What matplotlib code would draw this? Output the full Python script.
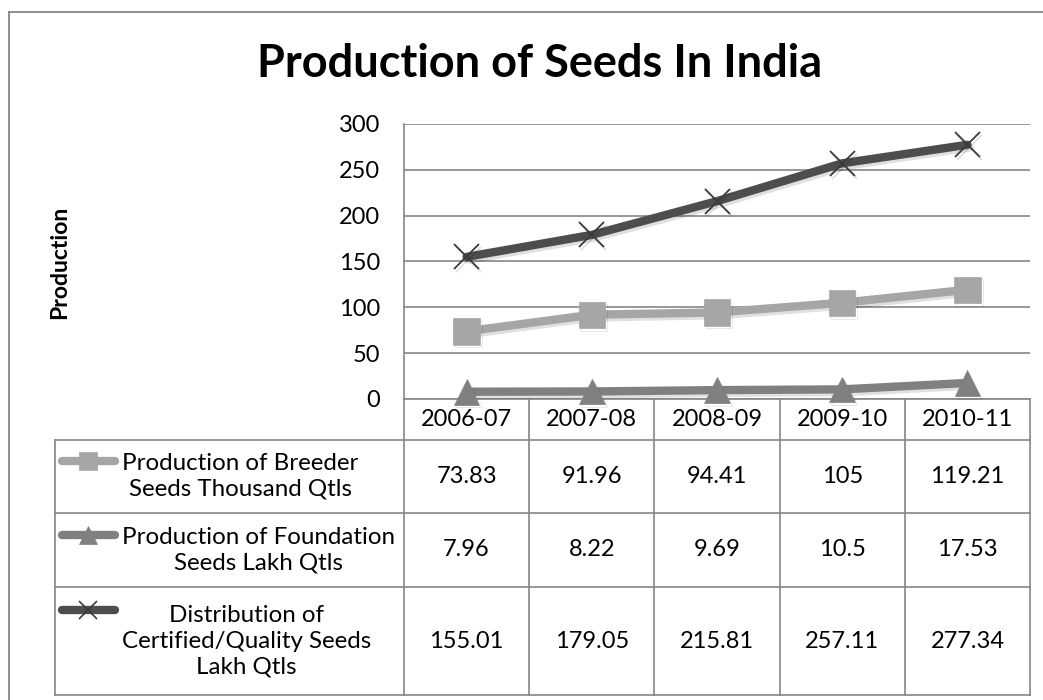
import matplotlib
matplotlib.use("Agg")
import matplotlib.pyplot as plt
import matplotlib.patheffects as pe
import numpy as np

plt.rcParams['font.family'] = ['Lato', 'DejaVu Sans']

# ---- data ----
years = ["2006-07", "2007-08", "2008-09", "2009-10", "2010-11"]
breeder = [73.83, 91.96, 94.41, 105, 119.21]
foundation = [7.96, 8.22, 9.69, 10.5, 17.53]
distribution = [155.01, 179.05, 215.81, 257.11, 277.34]
series_names = ["Production of Breeder\nSeeds Thousand Qtls",
                "Production of Foundation\nSeeds Lakh Qtls",
                "Distribution of\nCertified/Quality Seeds\nLakh Qtls"]
series_vals = [breeder, foundation, distribution]
series_labels = [["73.83", "91.96", "94.41", "105", "119.21"],
                 ["7.96", "8.22", "9.69", "10.5", "17.53"],
                 ["155.01", "179.05", "215.81", "257.11", "277.34"]]
yticks = [0, 50, 100, 150, 200, 250, 300]

# ---- styles ----
colors = ["#A6A6A6", "#808080", "#4D4D4D"]
markers = ["s", "^", "x"]
msizes = [19, 18.5, 18]
grid_c = "#868686"

W, H = 1043, 700
fig = plt.figure(figsize=(W / 100, H / 100), dpi=100)

# overlay axes in pixel coordinates
ov = fig.add_axes([0, 0, 1, 1], zorder=0)
ov.set_xlim(0, W)
ov.set_ylim(H, 0)
ov.axis("off")

# outer chart border (cropped on right and bottom)
ov.plot([9, W], [12, 12], color=grid_c, lw=1.3)
ov.plot([9, 9], [12, H], color=grid_c, lw=1.3)

# plot area geometry (pixels)
pl, pr, pt, pb = 404, 1030, 124, 399
ax = fig.add_axes([pl / W, 1 - pb / H, (pr - pl) / W, (pb - pt) / H], zorder=2)
ax.set_facecolor("none")
x = np.arange(len(years))
for i, (vals, c, m, ms) in enumerate(zip(series_vals, colors, markers, msizes)):
    effects = [pe.SimpleLineShadow(offset=(1.5, -2), alpha=0.12, shadow_color="#000000"), pe.Normal()]
    mec = c if m != "x" else "#3A3A3A"
    ax.plot(x, vals, color=c, lw=6, marker=m, markersize=ms, markeredgecolor=mec,
            markeredgewidth=1.3 if m == "x" else 0.5, markerfacecolor=c,
            clip_on=False, zorder=3 + i, solid_capstyle="round", path_effects=effects)
ax.set_xlim(-0.5, len(years) - 0.5)
ax.set_ylim(0, 300)
ax.set_yticks(yticks)
ax.set_yticklabels([str(v) for v in yticks], fontsize=17)
ax.set_xticks([])
ax.tick_params(axis="y", length=0, pad=17)
ax.yaxis.grid(True, color=grid_c, lw=1.2)
ax.set_axisbelow(True)
for s in ["top", "right", "bottom"]:
    ax.spines[s].set_visible(False)
ax.spines["left"].set_color(grid_c)
ax.spines["left"].set_linewidth(1.2)

# title and axis label
ov.text(540, 77, "Production of Seeds In India", ha="center", va="baseline",
        fontsize=32.5, fontweight="bold")
ov.text(60, 262, "Production", ha="center", va="center", rotation=90,
        fontsize=16.5, fontweight="bold")

# ---- data table ----
col_edges = [pl + k * (pr - pl) / len(years) for k in range(len(years) + 1)]
row_edges = [399, 440, 513, 587, 695]
tl = 55
lc = grid_c
lw = 1.2
ov.plot([pl, pr], [row_edges[0], row_edges[0]], color=lc, lw=lw)
for y in row_edges[1:]:
    ov.plot([tl, pr], [y, y], color=lc, lw=lw)
for xe in col_edges:
    ov.plot([xe, xe], [row_edges[0], row_edges[-1]], color=lc, lw=lw)
ov.plot([tl, tl], [row_edges[1], row_edges[-1]], color=lc, lw=lw)

fs = 17
fs_name = 17.4
line_px = 31
for k, yr in enumerate(years):
    cx = (col_edges[k] + col_edges[k + 1]) / 2
    ov.text(cx, (row_edges[0] + row_edges[1]) / 2, yr, ha="center", va="center", fontsize=fs)
for r in range(3):
    y0, y1 = row_edges[r + 1], row_edges[r + 2]
    cy = (y0 + y1) / 2
    for k in range(len(years)):
        cx = (col_edges[k] + col_edges[k + 1]) / 2
        ov.text(cx, cy, series_labels[r][k], ha="center", va="center", fontsize=fs)
    ov.text(122, cy, series_names[r], ha="left", va="center", multialignment="center",
            fontsize=fs_name, linespacing=1.28)
    nlines = series_names[r].count("\n") + 1
    ky = cy - (nlines - 1) / 2 * line_px
    ov.plot([62, 115], [ky, ky], color=colors[r], lw=6, solid_capstyle="round")
    mec = colors[r] if markers[r] != "x" else "#3A3A3A"
    ov.plot([88], [ky], marker=markers[r], color=colors[r], markersize=12.5,
            markeredgecolor=mec, markeredgewidth=1.2 if markers[r] == "x" else 0.5)

fig.savefig("out.png", dpi=100)
